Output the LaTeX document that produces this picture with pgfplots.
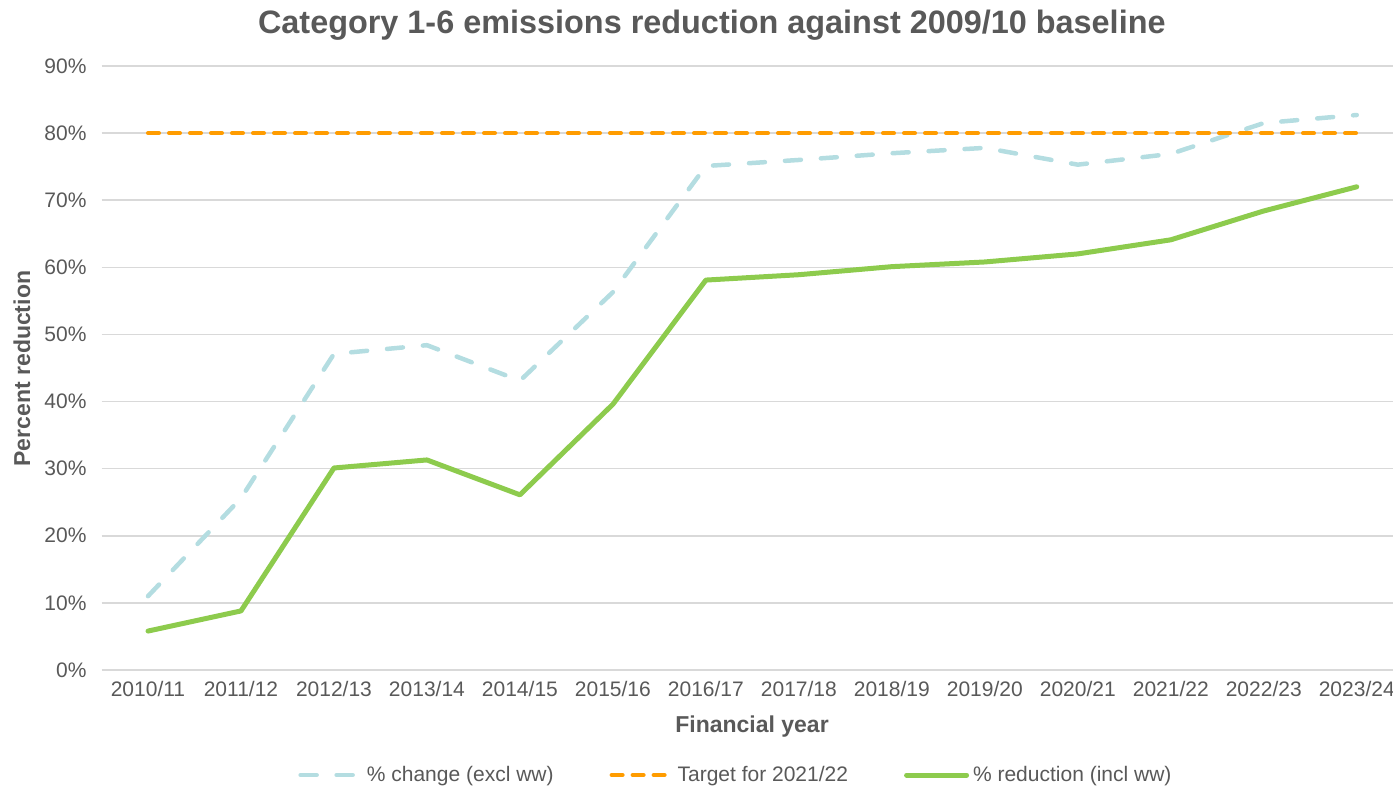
\documentclass[border=0pt]{standalone}
\usepackage{pgfplots}
\pgfplotsset{compat=1.18}
\usepackage{fontspec}
\setmainfont{Liberation Sans}
\definecolor{txt}{HTML}{595959}
\definecolor{gridc}{HTML}{D9D9D9}
\definecolor{cblue}{HTML}{B4DDE1}
\definecolor{corange}{HTML}{FF9C00}
\definecolor{cgreen}{HTML}{8DCB4D}
\begin{document}
\begin{tikzpicture}
\begin{axis}[
  scale only axis,
  width=645.75pt, height=302pt,
  xmin=-0.5, xmax=13.39,
  ymin=0, ymax=90,
  ytick={0,10,...,90},
  yticklabel={\pgfmathprintnumber{\tick}\%},
  /pgf/number format/assume math mode=true,
  xtick={0,...,13},
  xticklabels={2010/11,2011/12,2012/13,2013/14,2014/15,2015/16,2016/17,2017/18,2018/19,2019/20,2020/21,2021/22,2022/23,2023/24},
  tick style={draw=none},
  axis line style={draw=none},
  ymajorgrids,
  grid style={gridc, line width=0.75pt},
  tick label style={font=\fontsize{10.5}{12}\selectfont, text=txt},
  yticklabel style={xshift=-4pt},
  xticklabel style={yshift=-2pt},
  xlabel={Financial year},
  ylabel={Percent reduction},
  label style={font=\fontsize{11.5}{13}\selectfont\bfseries, text=txt},
  xlabel style={at={(axis description cs:0.5037,-0.094)}, anchor=center},
  ylabel style={at={(axis description cs:-0.0616,0.499)}, anchor=center, rotate=0},
  legend columns=3,
  legend style={at={(axis description cs:0.492,-0.174)}, anchor=center, draw=none,
    font=\fontsize{10.5}{12}\selectfont, text=txt,
    /tikz/every even column/.append style={column sep=26pt}},
  legend cell align=left,
  legend image code/.code={\draw[#1] (0pt,0pt) -- (30pt,0pt);},
  clip=false,
]
\addplot[cblue, line width=2.25pt, line cap=round, line join=round, dash pattern=on 8pt off 10pt]
coordinates {(0,11.0)(1,25.6)(2,47.1)(3,48.4)(4,43.1)(5,56.3)(6,75.1)(7,76.0)(8,77.0)(9,77.8)(10,75.3)(11,76.9)(12,81.5)(13,82.7)};
\addlegendentry{\% change (excl ww)}
\addplot[corange, line width=2pt, line cap=round, dash pattern=on 5.5pt off 5pt]
coordinates {(0,80)(1,80)(2,80)(3,80)(4,80)(5,80)(6,80)(7,80)(8,80)(9,80)(10,80)(11,80)(12,80)(13,80)};
\addlegendentry{Target for 2021/22}
\addplot[cgreen, line width=2.5pt, line cap=round, line join=round]
coordinates {(0,5.8)(1,8.8)(2,30.1)(3,31.3)(4,26.1)(5,39.6)(6,58.1)(7,58.9)(8,60.1)(9,60.8)(10,62.0)(11,64.1)(12,68.4)(13,72.0)};
\addlegendentry{\% reduction (incl ww)}
\node[font=\fontsize{16.2}{19}\selectfont\bfseries, text=txt, anchor=center] at (axis description cs:0.4726,1.068) {Category 1-6 emissions reduction against 2009/10 baseline};
\coordinate (bl) at (axis description cs:-0.0786,-0.1954);
\coordinate (tr) at (axis description cs:1.0,1.1093);
\end{axis}
\pgfresetboundingbox
\useasboundingbox (bl) rectangle (tr);
\end{tikzpicture}
\end{document}
